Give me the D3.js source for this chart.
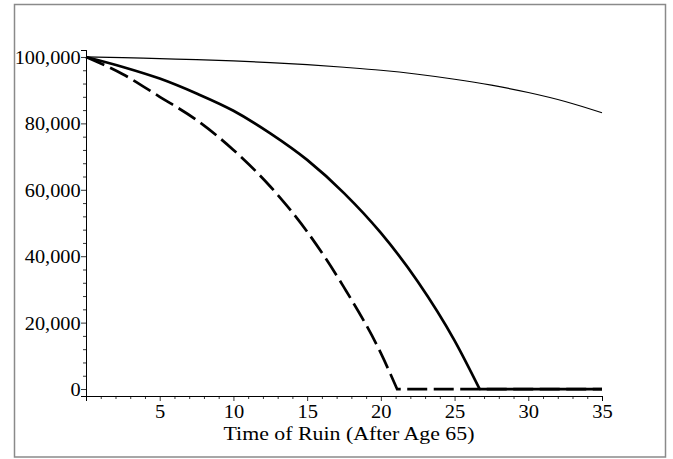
<!DOCTYPE html>
<html>
<head>
<meta charset="utf-8">
<script src="https://cdn.jsdelivr.net/npm/d3@7"></script>
<style>
  body { margin: 0; background: #fff; }
  text { font-family: "Liberation Serif", "Times New Roman", serif; fill: #000; }
</style>
</head>
<body>
<div class="chart"></div>
<script>
// years after 65 and the fund left
var years = [0, 2.5, 5, 7.5, 10, 12.5, 15, 17.5, 20, 22.5, 25, 27.5, 30, 32.5, 35];
var thinValues = [100000, 99800, 99500, 99200, 98800, 98300, 97700, 96900, 96000, 94800, 93300, 91500, 89300, 86600, 83200];

var solidYears = [0, 2.5, 5, 7.5, 10, 12.5, 15, 17.5, 20, 22.5, 25, 26.7];
var solidValues = [100000, 97000, 93500, 89000, 83800, 77000, 69000, 59000, 47000, 32400, 14600, 0];

var dashedYears = [0, 2.5, 5, 7.5, 10, 12.5, 15, 17.5, 20, 21.1];
var dashedValues = [100000, 94800, 88000, 81000, 72000, 61000, 47400, 30600, 10800, 0];

var xTicks = [5, 10, 15, 20, 25, 30, 35];
var yTicks = [0, 20000, 40000, 60000, 80000, 100000];

var W = 673, H = 459;

var svg = d3.select('.chart')
    .append('svg')
    .attr('width', W)
    .attr('height', H)

// outer frame
svg.append('rect')
    .attr('x', 14.5).attr('y', 4.5)
    .attr('width', 651).attr('height', 452.5)
    .style('fill', 'none')
    .style('stroke', '#8a8a8a')
    .style('stroke-width', 1.5)

var xScale = d3.scaleLinear()
    .domain([0, 35])
    .range([86, 602])

var yScale = d3.scaleLinear()
    .domain([-2100, 102100])
    .range([396, 50])

// minor ticks first, then the labelled ones
var xAxisMinor = d3.axisBottom(xScale)
    .tickValues(d3.range(1, 36).filter(d => d % 5 != 0))
    .tickSize(3).tickFormat('')
var xAxis = d3.axisBottom(xScale)
    .tickValues(xTicks).tickSize(5).tickPadding(4)
    .tickFormat(d3.format('d'))

var yAxisMinor = d3.axisLeft(yScale)
    .tickValues(d3.range(4000, 100000, 4000).filter(d => d % 20000 != 0))
    .tickSize(3).tickFormat('')
var yAxis = d3.axisLeft(yScale)
    .tickValues(yTicks).tickSize(5).tickPadding(0)
    .tickFormat(d3.format(','))

svg.append('g').attr('transform', 'translate(0,396)').call(xAxisMinor)
var gx = svg.append('g').attr('transform', 'translate(0,396)').call(xAxis)
svg.append('g').attr('transform', 'translate(86,0)').call(yAxisMinor)
var gy = svg.append('g').attr('transform', 'translate(86,0)').call(yAxis)

svg.selectAll('.domain').style('stroke', '#000').style('stroke-width', 1)
svg.selectAll('.tick line').style('stroke', '#000').style('stroke-width', 0.8)

// the original type is a little wider than Liberation Serif, so stretch it
gx.selectAll('text')
    .style('font-size', '19px').style('font-family', '"Liberation Serif", serif')
    .attr('transform', 'scale(1.08,1)')
gy.selectAll('text')
    .style('font-size', '19px').style('font-family', '"Liberation Serif", serif')
    .attr('dy', '0.34em')
    .attr('transform', 'scale(1.07,1)')

svg.append('text')
    .attr('transform', 'translate(349,440) scale(1.15,1)')
    .attr('text-anchor', 'middle')
    .style('font-size', '19px')
    .text('Time of Ruin (After Age 65)')

var curve = d3.line()
    .x(d => xScale(d[0]))
    .y(d => yScale(d[1]))
    .curve(d3.curveMonotoneX)

var flat = d3.line()
    .x(d => xScale(d[0]))
    .y(d => yScale(d[1]))

function pairs(xs, ys) { return xs.map((x, i) => [x, ys[i]]); }

// dashed: drop then sits at zero
var dashedPts = pairs(dashedYears, dashedValues);
var dashedPath = curve(dashedPts) + flat([[dashedYears[dashedYears.length - 1], 0], [35, 0]]).replace('M', 'L');
svg.append('path')
    .attr('d', dashedPath)
    .style('fill', 'none').style('stroke', '#000')
    .style('stroke-width', 2.7)
    .style('stroke-dasharray', '20,6.5')

svg.append('path')
    .attr('d', curve(pairs(solidYears, solidValues)))
    .style('fill', 'none').style('stroke', '#000')
    .style('stroke-width', 2.7)
svg.append('path')
    .attr('d', flat([[solidYears[solidYears.length - 1], 0], [35, 0]]))
    .style('fill', 'none').style('stroke', '#000')
    .style('stroke-width', 2.7)

svg.append('path')
    .attr('d', curve(pairs(years, thinValues)))
    .style('fill', 'none').style('stroke', '#000')
    .style('stroke-width', 1.2)
</script>
</body>
</html>
